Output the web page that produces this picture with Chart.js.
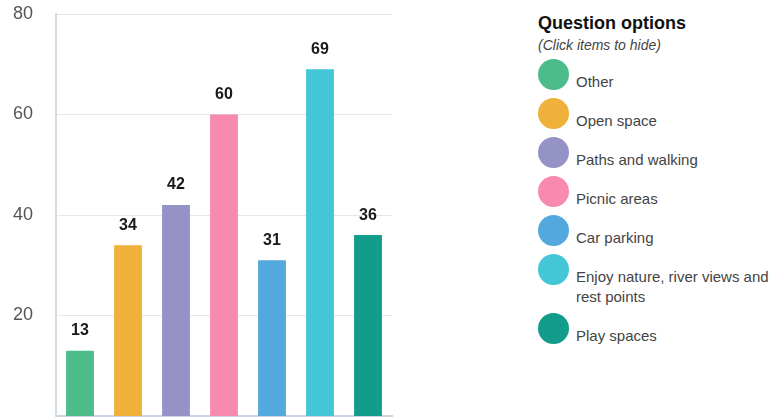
<!DOCTYPE html>
<html lang="en">
<head>
    <meta charset="UTF-8">
    <title>Question options</title>
    <script src="https://cdn.jsdelivr.net/npm/chart.js"></script>
    <style>
        body { margin: 0; background: #fff; font-family: "Liberation Sans", Arial, sans-serif; }
        #wrap { position: absolute; left: 0; top: 0; width: 400px; height: 417px; }
        #legend { position: absolute; left: 538px; top: 11px; width: 236px; color: #444; }
        #legend h3 { margin: 0; font-size: 18px; line-height: 24px; color: #111; }
        #legend .sub { font-style: italic; font-size: 14px; line-height: 20px; margin-bottom: 4px; }
        .item { display: flex; margin-bottom: 6px; cursor: pointer; }
        .dot { flex: 0 0 31px; height: 31px; border-radius: 50%; }
        .txt { margin-left: 7px; padding-top: 13px; font-size: 15px; line-height: 20px; }
        .item.off { opacity: 0.4; }
    </style>
</head>
<body>
<div id="wrap"><canvas id="grafico"></canvas></div>
<div id="legend">
    <h3>Question options</h3>
    <div class="sub">(Click items to hide)</div>
    <div id="items"></div>
</div>
<script>
    var categorias = ["Other", "Open space", "Paths and walking", "Picnic areas", "Car parking",
        "Enjoy nature, river views and rest points", "Play spaces"];
    var respostas = [13, 34, 42, 60, 31, 69, 36];
    var cores = ["#4cbc8b", "#efb13a", "#9593c5", "#f78aae", "#53a9dd", "#43c6d6", "#129c8b"];
    var ticksY = [20, 40, 60, 80];

    var rotulos = {
        id: 'rotulos',
        afterDatasetsDraw: function(chart) {
            var ctx = chart.ctx;
            var meta = chart.getDatasetMeta(0);
            ctx.save();
            ctx.font = 'bold 16px "Liberation Sans", Arial, sans-serif';
            ctx.fillStyle = '#1a1a1a';
            ctx.textAlign = 'center';
            ctx.textBaseline = 'middle';
            meta.data.forEach(function(bar, i) {
                if (!chart.getDataVisibility(i)) return;
                ctx.fillText(respostas[i], bar.x, bar.y - 20);
            });
            ctx.restore();
        }
    };

    var chart = new Chart(document.getElementById('grafico'), {
        type: 'bar',
        data: {
            labels: categorias,
            datasets: [{
                data: respostas,
                backgroundColor: cores,
                borderWidth: 0,
                categoryPercentage: 1,
                barPercentage: 0.58
            }]
        },
        options: {
            responsive: true,
            maintainAspectRatio: false,
            animation: false,
            layout: { padding: { top: 14, right: 8, bottom: 1, left: 0 } },
            plugins: { legend: { display: false }, tooltip: { enabled: false } },
            scales: {
                x: {
                    ticks: { display: false },
                    grid: { display: false, drawTicks: false },
                    border: { color: '#cbd6e2', width: 2 },
                    afterFit: function(scale) { scale.height = 0; }
                },
                y: {
                    min: 0,
                    max: 80,
                    afterBuildTicks: function(scale) {
                        scale.ticks = ticksY.map(function(v) { return { value: v }; });
                    },
                    afterFit: function(scale) {
                        scale.width = 56;
                        scale.paddingTop = 0;
                        scale.paddingBottom = 0;
                    },
                    ticks: {
                        padding: 23,
                        color: '#555',
                        font: { family: '"Liberation Sans", Arial, sans-serif', size: 18 }
                    },
                    grid: { color: '#e6e6e6', drawTicks: false },
                    border: { color: '#d3dde8', width: 2 }
                }
            }
        },
        plugins: [rotulos]
    });

    var itens = document.getElementById('items');
    categorias.forEach(function(nome, i) {
        var item = document.createElement('div');
        item.className = 'item';
        var dot = document.createElement('div');
        dot.className = 'dot';
        dot.style.background = cores[i];
        var txt = document.createElement('div');
        txt.className = 'txt';
        txt.textContent = nome;
        item.appendChild(dot);
        item.appendChild(txt);
        item.onclick = function() {
            chart.toggleDataVisibility(i);
            item.classList.toggle('off');
            chart.update();
        };
        itens.appendChild(item);
    });
</script>
</body>
</html>
